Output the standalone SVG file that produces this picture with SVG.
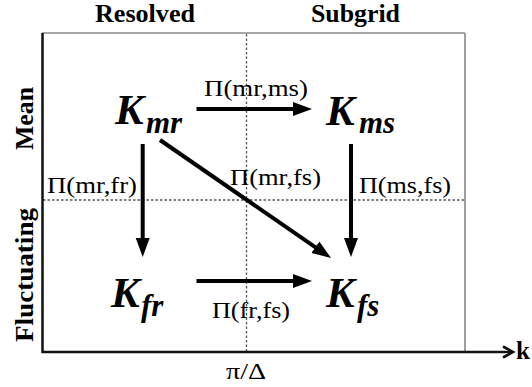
<svg xmlns="http://www.w3.org/2000/svg" width="532" height="387" viewBox="0 0 532 387">
  <style>
    .head { font-family: "Liberation Serif", "DejaVu Serif", serif; font-weight: bold; font-size: 25px; fill: #000; }
    .lab { font-family: "Liberation Serif", "DejaVu Serif", serif; font-size: 24px; fill: #000; }
    .K { font-family: "Liberation Serif", "DejaVu Serif", serif; font-weight: bold; font-style: italic; font-size: 43px; fill: #000; }
    .sub { font-family: "Liberation Serif", "DejaVu Serif", serif; font-weight: bold; font-style: italic; font-size: 31px; fill: #000; }
    .conn { stroke: #000; stroke-width: 4; fill: none; marker-end: url(#ah); }
    .grid { stroke: #555; stroke-width: 1.3; stroke-dasharray: 2.5 2; fill: none; }
    .frame { stroke: #888; stroke-width: 1.6; fill: none; }
    .axis { stroke: #111; stroke-width: 2.5; fill: none; }
  </style>
  <defs>
    <marker id="ah" markerUnits="userSpaceOnUse" markerWidth="22" markerHeight="16" viewBox="0 -8 22 16" refX="2" refY="0" orient="auto">
      <path d="M0,-7 L19,0 L0,7 z" fill="#000"/>
    </marker>
  </defs>

  <rect width="532" height="387" fill="#fff"/>

  <g id="frame">
    <line class="frame" x1="42" y1="33" x2="465" y2="33"/>
    <line class="frame" x1="465" y1="33" x2="465" y2="352"/>
    <line class="grid" x1="246.5" y1="34" x2="246.5" y2="351"/>
    <line class="grid" x1="43" y1="200" x2="464" y2="200"/>
    <line class="axis" x1="42.5" y1="33" x2="42.5" y2="353"/>
    <line class="axis" x1="42" y1="352" x2="512" y2="352"/>
    <polyline points="503,346.5 513,352 503,357.5" stroke="#111" stroke-width="2.6" fill="none"/>
    <text class="head" x="516" y="359">k</text>
    <text class="lab" x="226" y="379" textLength="40" lengthAdjust="spacingAndGlyphs">π/Δ</text>
  </g>

  <g id="headers">
    <text class="head" x="95" y="22" textLength="100" lengthAdjust="spacingAndGlyphs">Resolved</text>
    <text class="head" x="311" y="22" textLength="89" lengthAdjust="spacingAndGlyphs">Subgrid</text>
    <text class="head" x="33" y="118.5" text-anchor="middle" transform="rotate(-90 33 118.5)" textLength="63" lengthAdjust="spacingAndGlyphs">Mean</text>
    <text class="head" x="33" y="275" text-anchor="middle" transform="rotate(-90 33 275)" textLength="134" lengthAdjust="spacingAndGlyphs">Fluctuating</text>
  </g>

  <g id="connectors">
    <line class="conn" x1="196.5" y1="109" x2="295" y2="109"/>
    <line class="conn" x1="196.5" y1="281" x2="295" y2="281"/>
    <line class="conn" x1="142.7" y1="144" x2="142.7" y2="240"/>
    <line class="conn" x1="351" y1="144" x2="351" y2="240"/>
    <line class="conn" x1="160" y1="140" x2="317" y2="248.3"/>
    <text class="lab" x="204" y="96" textLength="104" lengthAdjust="spacingAndGlyphs">Π(mr,ms)</text>
    <text class="lab" x="47" y="193" textLength="90" lengthAdjust="spacingAndGlyphs">Π(mr,fr)</text>
    <text class="lab" x="230" y="185" textLength="91" lengthAdjust="spacingAndGlyphs">Π(mr,fs)</text>
    <text class="lab" x="359" y="193" textLength="92" lengthAdjust="spacingAndGlyphs">Π(ms,fs)</text>
    <text class="lab" x="212" y="318" textLength="78" lengthAdjust="spacingAndGlyphs">Π(fr,fs)</text>
  </g>

  <g id="node-Kmr">
    <text class="K" x="115" y="124">K</text>
    <text class="sub" x="146" y="133">mr</text>
  </g>
  <g id="node-Kms">
    <text class="K" x="326" y="125">K</text>
    <text class="sub" x="359" y="133">ms</text>
  </g>
  <g id="node-Kfr">
    <text class="K" x="111" y="307">K</text>
    <text class="sub" x="141" y="316">fr</text>
  </g>
  <g id="node-Kfs">
    <text class="K" x="326" y="307">K</text>
    <text class="sub" x="357" y="316">fs</text>
  </g>
</svg>
